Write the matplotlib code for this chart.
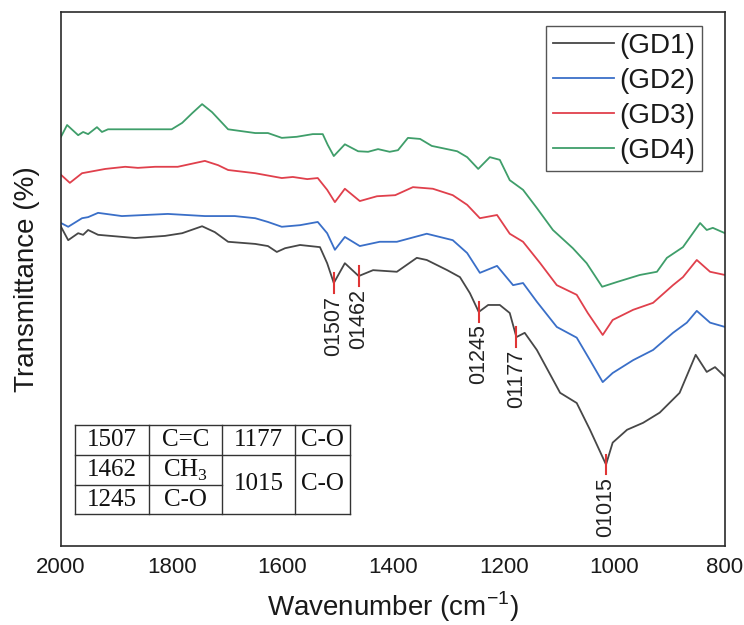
import numpy as np
import matplotlib
matplotlib.use("Agg")
import matplotlib.pyplot as plt
from matplotlib.lines import Line2D

plt.rcParams['font.family'] = ['Liberation Sans', 'DejaVu Sans']

# FTIR spectra (wavenumber in cm^-1, transmittance in arbitrary offset units)
gd4_wn = [2000, 1989, 1969, 1960, 1951, 1935, 1926, 1915, 1860, 1800, 1781, 1763, 1745,
          1727, 1698, 1649, 1626, 1601, 1574, 1545, 1527, 1518, 1507, 1487, 1463, 1445,
          1427, 1406, 1391, 1373, 1351, 1330, 1284, 1266, 1246, 1225, 1207, 1189, 1165,
          1140, 1111, 1075, 1050, 1022, 995, 954, 923, 905, 876, 845, 833, 822, 800]
gd4_t = [77.1, 79.3, 77.4, 78.0, 77.6, 78.9, 78.0, 78.5, 78.5, 78.5, 79.7, 81.5, 83.2,
         81.7, 78.5, 77.8, 77.8, 76.9, 77.1, 77.6, 77.6, 75.6, 73.5, 75.7, 74.4, 74.3,
         74.8, 74.3, 74.6, 76.9, 76.7, 75.4, 74.4, 73.3, 71.1, 73.3, 72.8, 69.0, 67.2,
         63.8, 59.7, 56.3, 53.5, 49.1, 50.0, 51.3, 51.9, 54.5, 56.5, 61.0, 59.7, 60.1, 59.1]

gd3_wn = [2000, 1984, 1962, 1920, 1884, 1861, 1830, 1789, 1740, 1716, 1698, 1649, 1601,
          1581, 1555, 1536, 1519, 1505, 1487, 1460, 1429, 1396, 1364, 1328, 1292, 1266,
          1243, 1212, 1189, 1165, 1134, 1104, 1068, 1048, 1021, 1003, 966, 930, 894, 876,
          851, 827, 800]
gd3_t = [70.0, 68.5, 70.3, 71.1, 71.5, 71.3, 71.5, 71.5, 72.6, 71.8, 70.9, 70.3, 69.4,
         69.6, 69.2, 69.4, 67.2, 64.9, 67.4, 65.1, 66.0, 66.2, 67.7, 67.4, 66.2, 64.4,
         61.9, 62.5, 59.0, 57.5, 53.5, 49.4, 47.6, 44.2, 40.1, 42.9, 44.8, 46.1, 49.4, 50.9,
         54.1, 51.9, 51.3]

gd2_wn = [2000, 1987, 1962, 1951, 1933, 1890, 1807, 1740, 1686, 1649, 1626, 1601, 1568,
          1536, 1519, 1505, 1487, 1460, 1424, 1393, 1339, 1292, 1266, 1243, 1212, 1183,
          1165, 1140, 1104, 1068, 1044, 1021, 1003, 966, 930, 894, 869, 851, 827, 800]
gd2_t = [61.0, 60.3, 61.9, 62.1, 62.9, 62.3, 62.7, 62.3, 62.3, 61.9, 61.2, 60.3, 60.6,
         61.2, 59.1, 56.0, 58.4, 56.7, 57.5, 57.5, 59.0, 57.8, 55.4, 51.7, 53.0, 49.4,
         49.8, 46.3, 41.6, 39.6, 35.4, 31.3, 33.0, 35.4, 37.3, 40.5, 42.4, 44.6, 42.4, 41.6]

gd1_wn = [2000, 1987, 1969, 1960, 1951, 1933, 1866, 1812, 1781, 1745, 1722, 1698, 1649,
          1626, 1610, 1595, 1568, 1532, 1519, 1507, 1487, 1462, 1436, 1393, 1357, 1339,
          1302, 1279, 1261, 1245, 1228, 1207, 1189, 1177, 1162, 1140, 1098, 1068, 1044,
          1015, 1003, 977, 948, 918, 882, 853, 833, 818, 800]
gd1_t = [60.3, 57.8, 59.1, 58.8, 59.7, 58.8, 58.2, 58.6, 59.1, 60.4, 59.3, 57.5, 57.1,
         56.7, 55.6, 56.3, 56.9, 56.5, 53.5, 49.8, 53.5, 51.1, 52.2, 51.9, 54.5, 54.1,
         52.2, 50.9, 47.9, 44.4, 45.7, 45.7, 44.2, 39.7, 40.5, 37.3, 29.3, 27.4, 22.4,
         15.9, 20.0, 22.4, 23.7, 25.6, 29.3, 36.4, 33.2, 34.1, 32.3]

series_names = ['(GD1)', '(GD2)', '(GD3)', '(GD4)']
series_colors = ['#474747', '#3a6fc8', '#e0404c', '#3f9e6a']

# Assigned absorption bands marked on GD1
peak_wn = [1507, 1462, 1245, 1177, 1015]

# Band assignment table
table_rows = [['1507', 'C=C', '1177', 'C-O'],
              ['1462', 'CH$_{\\mathregular{3}}$', '1015', 'C-O'],
              ['1245', 'C-O', None, None]]

fig = plt.figure(figsize=(7.44, 6.25), dpi=100)
ax = fig.add_axes([61 / 744, 1 - 546 / 625, 664 / 744, 534 / 625])

data = [(gd1_wn, gd1_t), (gd2_wn, gd2_t), (gd3_wn, gd3_t), (gd4_wn, gd4_t)]
for (wn, t), name, col in zip(data, series_names, series_colors):
    ax.plot(wn, t, color=col, lw=1.3, label=name)

ax.set_xlim(2000, 800)
ax.set_ylim(0.7, 100.4)
ax.set_xticks([2000, 1800, 1600, 1400, 1200, 1000, 800])
ax.set_yticks([])
ax.tick_params(axis='x', length=0, pad=8, labelsize=16, labelcolor='#1a1a1a')
for sp in ax.spines.values():
    sp.set_color('#2b2b2b')
    sp.set_linewidth(1.2)

ax.set_xlabel('Wavenumber (cm$^{\\mathregular{-1}}$)', fontsize=20, labelpad=8, color='#1a1a1a')
ax.set_ylabel('Transmittance (%)', fontsize=20, color='#1a1a1a')
ax.yaxis.set_label_coords(-0.032, 0.5)

# Peak markers and labels on the GD1 spectrum
gd1_sorted_wn = np.array(gd1_wn[::-1], dtype=float)
gd1_sorted_t = np.array(gd1_t[::-1], dtype=float)
half = 1.85
for p in peak_wn:
    yv = np.interp(p, gd1_sorted_wn, gd1_sorted_t)
    ax.plot([p, p], [yv - half, yv + half], color='#e03535', lw=1.5)
    ax.text(p, yv - half - 0.5, '0' + str(p), rotation=90, ha='center', va='top',
            fontsize=15.5, color='#222222')

# Legend
leg = ax.legend(loc='upper right', bbox_to_anchor=((702 - 61) / 664, (546 - 26) / 534),
                borderaxespad=0, fontsize=20, labelspacing=0.32, handlelength=2.2,
                handletextpad=0.2, borderpad=0.25, fancybox=False, framealpha=1)
leg.get_frame().set_edgecolor('#555555')
leg.get_frame().set_linewidth(1.0)
for txt in leg.get_texts():
    txt.set_color('#1a1a1a')

# Band assignment table drawn in axes coordinates
def fx(px):
    return (px - 61) / 664


def fy(py):
    return (546 - py) / 534


cols = [75, 149, 222, 295, 350]
rows = [425, 455, 485, 514]
lkw = dict(color='#333333', lw=1.0, transform=ax.transAxes, clip_on=False)
for c in cols:
    ax.add_line(Line2D([fx(c), fx(c)], [fy(rows[0]), fy(rows[-1])], **lkw))
for r in (rows[0], rows[1], rows[-1]):
    ax.add_line(Line2D([fx(cols[0]), fx(cols[-1])], [fy(r), fy(r)], **lkw))
ax.add_line(Line2D([fx(cols[0]), fx(cols[2])], [fy(rows[2]), fy(rows[2])], **lkw))

tkw = dict(transform=ax.transAxes, ha='center', va='center', fontsize=18,
           family=['Liberation Serif', 'DejaVu Serif'], color='#111111')
for i, row in enumerate(table_rows):
    for j, txt in enumerate(row):
        if txt is None:
            continue
        cx = (cols[j] + cols[j + 1]) / 2
        if i == 1 and j >= 2:
            cy = (rows[1] + rows[3]) / 2
        else:
            cy = (rows[i] + rows[i + 1]) / 2
        ax.text(fx(cx), fy(cy), txt, **tkw)

fig.savefig('out.png', dpi=100)
